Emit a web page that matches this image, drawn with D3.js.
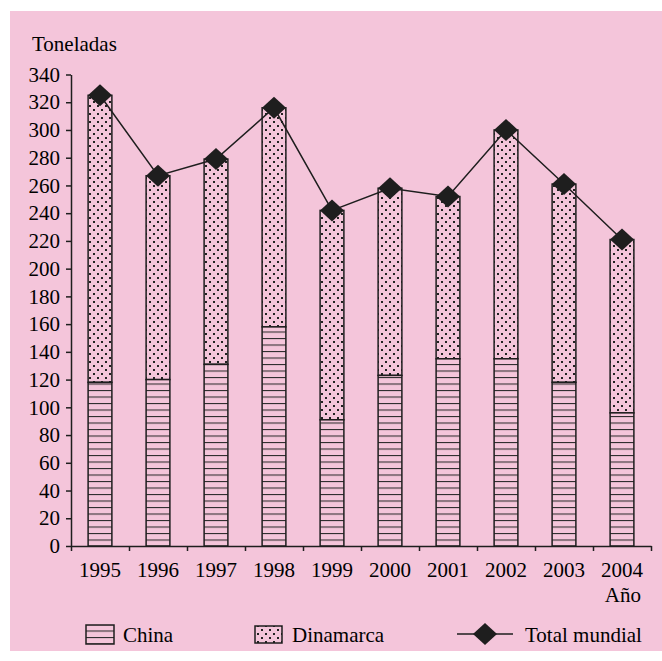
<!DOCTYPE html>
<html lang="es">
<head>
    <meta charset="UTF-8">
    <title>Toneladas por año</title>
    <script src="https://d3js.org/d3.v7.min.js"></script>
    <style>
        body { margin: 0; background: #ffffff; }
        svg { display: block; }
        svg text { font-family: "Liberation Serif", "Times New Roman", Times, serif !important; fill: #000; }
    </style>
</head>
<body>
    <svg id="chart" width="662" height="661"></svg>

    <script>
        // data
        const years = ["1995", "1996", "1997", "1998", "1999", "2000", "2001", "2002", "2003", "2004"];
        const china = [118, 120, 131, 158, 91, 123, 135, 135, 118, 96];
        const total = [325, 267, 279, 316, 242, 258, 252, 300, 261, 221];
        const yTicks = d3.range(0, 341, 20);

        const svg = d3.select("#chart");
        const margin = {left: 71, right: 11, top: 74.5, bottom: 115};
        const W = +svg.attr("width"), H = +svg.attr("height");
        const pink = "#f4c5da";
        const ink = "#1e1e1e";
        const fs = 21;

        // pink panel
        svg.append("rect")
            .attr("x", 10).attr("y", 11)
            .attr("width", W - 10).attr("height", 640)
            .attr("fill", pink);

        // fill patterns
        const defs = svg.append("defs");
        const hatch = defs.append("pattern")
            .attr("id", "hatch")
            .attr("patternUnits", "userSpaceOnUse")
            .attr("width", 8).attr("height", 6.5);
        hatch.append("rect").attr("width", 8).attr("height", 6.5).attr("fill", pink);
        hatch.append("line")
            .attr("x1", 0).attr("x2", 8).attr("y1", 0.5).attr("y2", 0.5)
            .attr("stroke", "#2a2a2a").attr("stroke-width", 1.1);

        const dots = defs.append("pattern")
            .attr("id", "dots")
            .attr("patternUnits", "userSpaceOnUse")
            .attr("width", 8).attr("height", 8);
        dots.append("rect").attr("width", 8).attr("height", 8).attr("fill", pink);
        dots.append("rect").attr("x", 1).attr("y", 1).attr("width", 2).attr("height", 2).attr("fill", "#222");
        dots.append("rect").attr("x", 5).attr("y", 5).attr("width", 2).attr("height", 2).attr("fill", "#222");

        const x = d3.scaleBand()
            .domain(years)
            .range([margin.left, W - margin.right])
            .padding(0);

        const y = d3.scaleLinear()
            .domain([0, 340])
            .range([H - margin.bottom, margin.top]);

        const barW = x.bandwidth() * 0.41;
        const rows = years.map((yr, i) => ({year: yr, china: china[i], total: total[i]}));

        // Dinamarca segment (top)
        svg.append("g")
            .selectAll("rect")
            .data(rows)
            .join("rect")
            .attr("x", d => x(d.year) + (x.bandwidth() - barW) / 2)
            .attr("y", d => y(d.total))
            .attr("width", barW)
            .attr("height", d => y(d.china) - y(d.total))
            .attr("fill", "url(#dots)")
            .attr("stroke", ink)
            .attr("stroke-width", 1.5);

        // China segment (bottom)
        svg.append("g")
            .selectAll("rect")
            .data(rows)
            .join("rect")
            .attr("x", d => x(d.year) + (x.bandwidth() - barW) / 2)
            .attr("y", d => y(d.china))
            .attr("width", barW)
            .attr("height", d => y(0) - y(d.china))
            .attr("fill", "url(#hatch)")
            .attr("stroke", ink)
            .attr("stroke-width", 1.5);

        // axes
        svg.append("g")
            .attr("transform", `translate(${margin.left},0)`)
            .call(d3.axisLeft(y).tickValues(yTicks).tickSize(5).tickSizeOuter(0).tickPadding(6));

        // ticks sit on the category boundaries
        const edges = d3.scaleLinear().domain([0, years.length]).range(x.range());
        svg.append("g")
            .attr("transform", `translate(0,${y(0)})`)
            .call(d3.axisBottom(edges).tickValues(d3.range(0, years.length + 1)).tickFormat("").tickSize(5).tickSizeOuter(0));

        const xAxis = svg.append("g")
            .attr("transform", `translate(0,${y(0)})`)
            .call(d3.axisBottom(x).tickSize(0).tickPadding(16));
        xAxis.select(".domain").remove();

        svg.selectAll(".domain, .tick line").attr("stroke", ink).attr("stroke-width", 1.5);
        svg.selectAll(".tick text").attr("font-size", fs);

        // total line with diamonds
        const cx = d => x(d.year) + x.bandwidth() / 2;
        svg.append("path")
            .datum(rows)
            .attr("fill", "none")
            .attr("stroke", ink)
            .attr("stroke-width", 1.5)
            .attr("d", d3.line().x(cx).y(d => y(d.total)));

        const diamond = "M0,-11L12,0L0,11L-12,0Z";
        svg.append("g")
            .selectAll("path")
            .data(rows)
            .join("path")
            .attr("transform", d => `translate(${cx(d)},${y(d.total)})`)
            .attr("d", diamond)
            .attr("fill", ink);

        // axis titles
        svg.append("text")
            .attr("x", 32).attr("y", 51)
            .attr("font-size", fs)
            .text("Toneladas");

        svg.append("text")
            .attr("x", 641).attr("y", 602)
            .attr("text-anchor", "end")
            .attr("font-size", fs)
            .text("Año");

        // legend
        const legend = svg.append("g");
        legend.append("rect")
            .attr("x", 86).attr("y", 625).attr("width", 28).attr("height", 19)
            .attr("fill", "url(#hatch)").attr("stroke", ink).attr("stroke-width", 1.5);
        legend.append("text").attr("x", 123).attr("y", 642).attr("font-size", fs).text("China");

        legend.append("rect")
            .attr("x", 255).attr("y", 626).attr("width", 27).attr("height", 17)
            .attr("fill", "url(#dots)").attr("stroke", ink).attr("stroke-width", 1.5);
        legend.append("text").attr("x", 292).attr("y", 642).attr("font-size", fs).text("Dinamarca");

        legend.append("line")
            .attr("x1", 457).attr("x2", 513).attr("y1", 634).attr("y2", 634)
            .attr("stroke", ink).attr("stroke-width", 1.5);
        legend.append("path")
            .attr("transform", "translate(485,634)")
            .attr("d", diamond)
            .attr("fill", ink);
        legend.append("text").attr("x", 525).attr("y", 642).attr("font-size", fs).text("Total mundial");
    </script>
</body>
</html>
